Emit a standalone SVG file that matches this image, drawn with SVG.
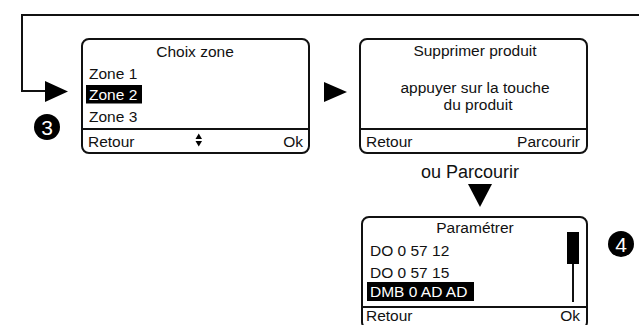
<svg xmlns="http://www.w3.org/2000/svg" width="639" height="325" viewBox="0 0 639 325">
<style>
text{font-family:"Liberation Sans",Arial,sans-serif;fill:#111}
.t{font-size:15.5px}
.c{text-anchor:middle}
.r{text-anchor:end}
.box{fill:#fff;stroke:#111;stroke-width:2}
.div{stroke:#111;stroke-width:2}
.hl{fill:#000}
.w{fill:#fff}
.conn{fill:none;stroke:#111;stroke-width:2}
.tri{fill:#000}
.num{font-size:21px;fill:#fff;text-anchor:middle}
</style>
<rect width="639" height="325" fill="#fff"/>
<g id="connectors">
<path class="conn" d="M639 15 H22 V91 H46"/>
<polygon class="tri" points="45,81 45,102 68,91.5"/>
<polygon class="tri" points="324,82 324,102 347,92"/>
<polygon class="tri" points="468,184 492,184 480,207"/>
<text x="470" y="178" class="c" style="font-size:18px">ou Parcourir</text>
</g>
<g id="badge3">
<circle cx="47" cy="127" r="13" fill="#000"/>
<text x="47" y="134.5" class="num">3</text>
</g>
<g id="badge4">
<circle cx="621" cy="244" r="13" fill="#000"/>
<text x="621" y="251.5" class="num">4</text>
</g>
<g id="choix-zone">
<rect class="box" x="82" y="39" width="227" height="114" rx="7"/>
<line class="div" x1="82" y1="129" x2="309" y2="129"/>
<text x="195" y="57" class="t c">Choix zone</text>
<text x="89" y="79" class="t">Zone 1</text>
<rect class="hl" x="86" y="85" width="56" height="18.5"/>
<text x="89" y="100" class="t w">Zone 2</text>
<text x="89" y="122" class="t">Zone 3</text>
<text x="88" y="147" class="t">Retour</text>
<polygon class="tri" points="195.5,139 202,139 198.75,133.5"/>
<polygon class="tri" points="195.5,141 202,141 198.75,146.5"/>
<text x="303" y="147" class="t r">Ok</text>
</g>
<g id="supprimer-produit">
<rect class="box" x="360" y="39" width="227" height="114" rx="7"/>
<line class="div" x1="360" y1="129" x2="587" y2="129"/>
<text x="475" y="56" class="t c">Supprimer produit</text>
<text x="475" y="93" class="t c">appuyer sur la touche</text>
<text x="478" y="110" class="t c">du produit</text>
<text x="366" y="147" class="t">Retour</text>
<text x="580" y="147" class="t r">Parcourir</text>
</g>
<g id="parametrer">
<rect class="box" x="362" y="217" width="225" height="112" rx="7"/>
<line class="div" x1="362" y1="307" x2="587" y2="307"/>
<text x="475" y="233" class="t c">Paramétrer</text>
<text x="370" y="256" class="t">DO 0 57 12</text>
<text x="370" y="278" class="t">DO 0 57 15</text>
<rect class="hl" x="367" y="282" width="107" height="19"/>
<text x="370" y="297" class="t w">DMB 0 AD AD</text>
<rect class="hl" x="567" y="232" width="12" height="32"/>
<line x1="573" y1="264" x2="573" y2="302" stroke="#111" stroke-width="2"/>
<text x="366" y="321" class="t">Retour</text>
<text x="580" y="321" class="t r">Ok</text>
</g>
</svg>
